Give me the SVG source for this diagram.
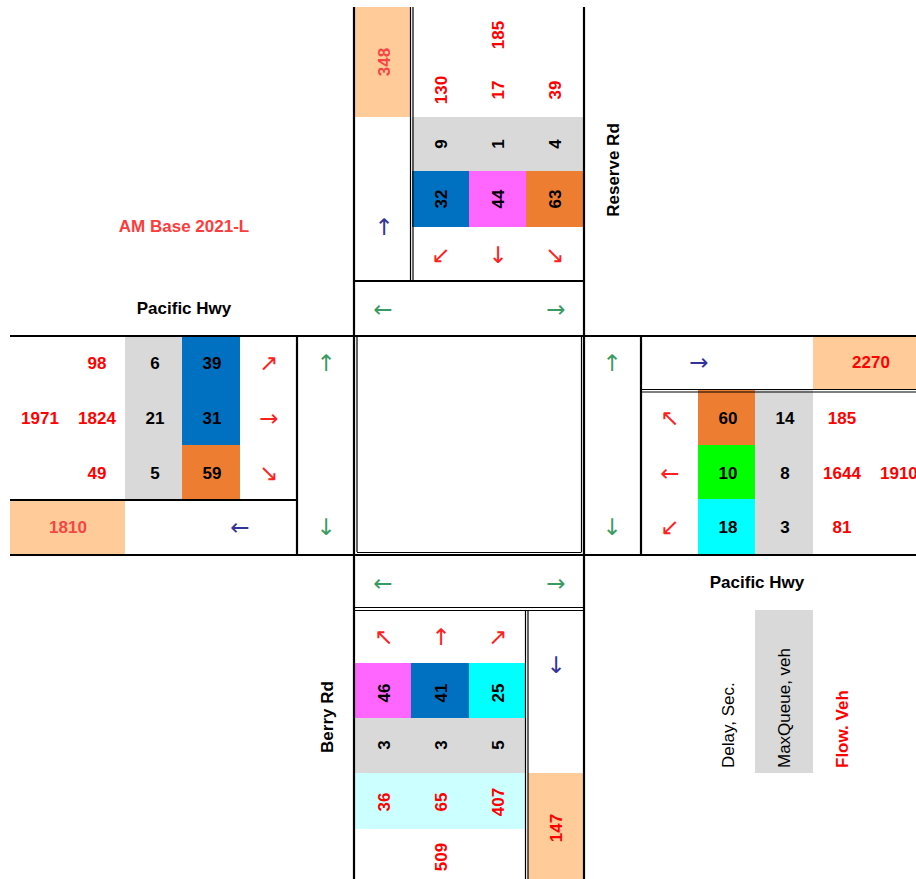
<svg xmlns="http://www.w3.org/2000/svg" width="916" height="879" viewBox="0 0 916 879">
<style>
text{font-family:"Liberation Sans",Arial,sans-serif;}
.n{font-size:17px;font-weight:bold;fill:#000;text-anchor:middle;dominant-baseline:central;}
.r{font-size:17px;font-weight:bold;fill:#FF0000;text-anchor:middle;dominant-baseline:central;}
.o{font-size:17px;font-weight:bold;fill:#F84444;text-anchor:middle;dominant-baseline:central;}
.lab{font-size:17px;font-weight:bold;fill:#000;text-anchor:middle;dominant-baseline:central;}
.a{font-family:"DejaVu Sans",sans-serif;font-size:23px;text-anchor:middle;dominant-baseline:central;}
.ar{fill:#FF2020;}
.ag{fill:#3A9A64;}
.ab{fill:#333399;}
.thick{stroke:#000;stroke-width:2.2;fill:none;}
.thin{stroke:#000;stroke-width:1.2;fill:none;}
.gray{fill:#D9D9D9;}
.peach{fill:#FFCC99;}
.blue{fill:#0070C0;}
.mag{fill:#FF66FF;}
.org{fill:#ED7D31;}
.grn{fill:#00FF00;}
.cyn{fill:#00FFFF;}
.lcyn{fill:#CCFFFF;}
</style>

<!-- North approach -->
<g id="north">
<rect class="peach" x="354" y="7" width="57" height="110"/>
<rect class="gray" x="412" y="117" width="172" height="54"/>
<rect class="blue" x="412" y="171" width="57" height="56"/>
<rect class="mag" x="469" y="171" width="57" height="56"/>
<rect class="org" x="526" y="171" width="58" height="56"/>
<text class="o" transform="translate(384,62) rotate(-90)">348</text>
<text class="r" transform="translate(498,35) rotate(-90)">185</text>
<text class="r" transform="translate(441,90) rotate(-90)">130</text>
<text class="r" transform="translate(498,90) rotate(-90)">17</text>
<text class="r" transform="translate(555,90) rotate(-90)">39</text>
<text class="n" transform="translate(441,144) rotate(-90)">9</text>
<text class="n" transform="translate(498,144) rotate(-90)">1</text>
<text class="n" transform="translate(555,144) rotate(-90)">4</text>
<text class="n" transform="translate(441,199) rotate(-90)">32</text>
<text class="n" transform="translate(498,199) rotate(-90)">44</text>
<text class="n" transform="translate(555,199) rotate(-90)">63</text>
<text class="a ab" x="384" y="227">↑</text>
<text class="a ar" x="441" y="255">↙</text>
<text class="a ar" x="498" y="255">↓</text>
<text class="a ar" x="555" y="255">↘</text>
<text class="a ag" x="383" y="309">←</text>
<text class="a ag" x="556" y="309">→</text>
<text class="lab" transform="translate(613,170) rotate(-90)">Reserve Rd</text>
</g>

<!-- West approach -->
<g id="west">
<rect class="gray" x="125" y="336" width="57" height="164"/>
<rect class="blue" x="182" y="336" width="58" height="109"/>
<rect class="org" x="182" y="445" width="58" height="55"/>
<rect class="peach" x="10" y="500" width="115" height="55"/>
<text class="r" x="97" y="363">98</text>
<text class="r" x="40" y="418">1971</text>
<text class="r" x="97" y="418">1824</text>
<text class="r" x="97" y="473">49</text>
<text class="n" x="155" y="363">6</text>
<text class="n" x="155" y="418">21</text>
<text class="n" x="155" y="473">5</text>
<text class="n" x="212" y="363">39</text>
<text class="n" x="212" y="418">31</text>
<text class="n" x="212" y="473">59</text>
<text class="a ar" x="269" y="363">↗</text>
<text class="a ar" x="269" y="418">→</text>
<text class="a ar" x="269" y="473">↘</text>
<text class="o" x="68" y="527">1810</text>
<text class="a ab" x="240" y="527">←</text>
<text class="a ag" x="326" y="363">↑</text>
<text class="a ag" x="326" y="527">↓</text>
<text class="lab" x="184" y="308">Pacific Hwy</text>
<text style="font-size:17px;font-weight:bold;fill:#FF3B3B;text-anchor:middle;dominant-baseline:central;" x="184" y="226">AM Base 2021-L</text>
</g>

<!-- East approach -->
<g id="east">
<rect class="peach" x="813" y="336" width="103" height="53"/>
<rect class="org" x="698" y="390" width="57" height="55"/>
<rect class="grn" x="698" y="445" width="57" height="54"/>
<rect class="cyn" x="698" y="499" width="57" height="56"/>
<rect class="gray" x="755" y="390" width="58" height="165"/>
<text class="a ag" x="612" y="363">↑</text>
<text class="a ag" x="612" y="527">↓</text>
<text class="a ab" x="699" y="362">→</text>
<text class="r" x="871" y="362">2270</text>
<text class="a ar" x="670" y="418">↖</text>
<text class="a ar" x="670" y="473">←</text>
<text class="a ar" x="670" y="527">↙</text>
<text class="n" x="728" y="418">60</text>
<text class="n" x="728" y="473">10</text>
<text class="n" x="728" y="527">18</text>
<text class="n" x="785" y="418">14</text>
<text class="n" x="785" y="473">8</text>
<text class="n" x="785" y="527">3</text>
<text class="r" x="842" y="418">185</text>
<text class="r" x="842" y="473">1644</text>
<text class="r" x="842" y="527">81</text>
<text class="r" x="880" y="473" style="text-anchor:start">1910</text>
<text class="lab" x="757" y="582">Pacific Hwy</text>
</g>

<!-- South approach -->
<g id="south">
<rect class="mag" x="354" y="663" width="57" height="55"/>
<rect class="blue" x="411" y="663" width="58" height="55"/>
<rect class="cyn" x="469" y="663" width="57" height="55"/>
<rect class="gray" x="354" y="718" width="172" height="55"/>
<rect class="lcyn" x="354" y="773" width="172" height="56"/>
<rect class="peach" x="528" y="773" width="56" height="106"/>
<text class="a ag" x="383" y="583">←</text>
<text class="a ag" x="556" y="583">→</text>
<text class="a ar" x="384" y="637">↖</text>
<text class="a ar" x="441" y="637">↑</text>
<text class="a ar" x="498" y="637">↗</text>
<text class="a ab" x="556" y="665">↓</text>
<text class="n" transform="translate(384,693) rotate(-90)">46</text>
<text class="n" transform="translate(441,693) rotate(-90)">41</text>
<text class="n" transform="translate(498,693) rotate(-90)">25</text>
<text class="n" transform="translate(384,745) rotate(-90)">3</text>
<text class="n" transform="translate(441,745) rotate(-90)">3</text>
<text class="n" transform="translate(498,745) rotate(-90)">5</text>
<text class="r" transform="translate(384,802) rotate(-90)">36</text>
<text class="r" transform="translate(441,802) rotate(-90)">65</text>
<text class="r" transform="translate(498,802) rotate(-90)">407</text>
<text class="r" transform="translate(441,857) rotate(-90)">509</text>
<text class="r" transform="translate(556,828) rotate(-90)">147</text>
<text class="lab" transform="translate(327,717) rotate(-90)">Berry Rd</text>
</g>

<!-- Legend -->
<g id="legend">
<rect class="gray" x="755" y="610" width="58" height="163"/>
<text transform="translate(728,768) rotate(-90)" style="font-size:17px;fill:#000;dominant-baseline:central;">Delay, Sec.</text>
<text transform="translate(784,768) rotate(-90)" style="font-size:17px;fill:#000;dominant-baseline:central;">MaxQueue, veh</text>
<text transform="translate(842,768) rotate(-90)" style="font-size:17px;font-weight:bold;fill:#FF0000;dominant-baseline:central;">Flow. Veh</text>
</g>

<!-- Grid lines -->
<g id="connectors">
<line class="thick" x1="354" y1="7" x2="354" y2="879"/>
<line class="thick" x1="584" y1="7" x2="584" y2="879"/>
<line class="thick" x1="10" y1="336" x2="916" y2="336"/>
<line class="thick" x1="10" y1="555" x2="916" y2="555"/>
<line class="thin" x1="357" y1="336" x2="357" y2="552"/>
<line class="thin" x1="581.5" y1="336" x2="581.5" y2="552"/>
<line class="thin" x1="357" y1="552.5" x2="581.5" y2="552.5"/>
<line class="thick" x1="354" y1="281" x2="584" y2="281"/>
<line class="thin" x1="410.5" y1="7" x2="410.5" y2="281"/>
<line class="thin" x1="413" y1="7" x2="413" y2="281"/>
<line class="thin" x1="354" y1="607.5" x2="584" y2="607.5"/>
<line class="thin" x1="354" y1="610.5" x2="584" y2="610.5"/>
<line class="thin" x1="525.5" y1="610.5" x2="525.5" y2="879"/>
<line class="thin" x1="528" y1="610.5" x2="528" y2="879"/>
<line class="thick" x1="10" y1="500" x2="297" y2="500"/>
<line class="thick" x1="297" y1="336" x2="297" y2="555"/>
<line class="thick" x1="641" y1="336" x2="641" y2="555"/>
<line class="thin" x1="641" y1="389.5" x2="916" y2="389.5"/>
<line class="thin" x1="641" y1="392" x2="916" y2="392"/>
</g>
</svg>
